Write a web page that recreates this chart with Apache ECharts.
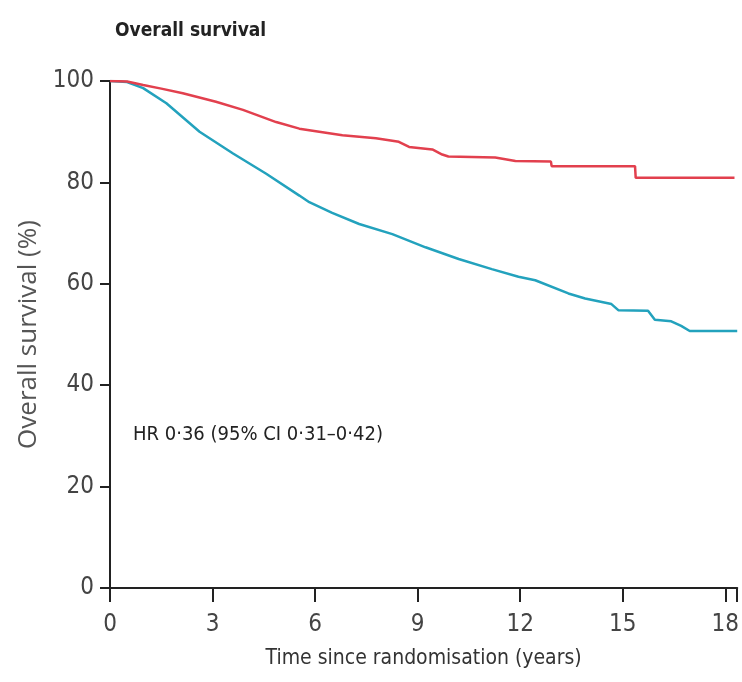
<!DOCTYPE html>
<html>
<head>
<meta charset="utf-8">
<script src="https://cdn.jsdelivr.net/npm/echarts@6/dist/echarts.min.js"></script>
<style>
  html, body { margin: 0; padding: 0; background: #fff; }
  #chart { width: 742px; height: 682px; }
</style>
</head>
<body>
<div id="chart"></div>
<script>
// x = years since randomisation, y = overall survival (%)
const xTicks = [0, 3, 6, 9, 12, 15, 18];
const yTicks = [0, 20, 40, 60, 80, 100];

const treatedSurvival = [
  [0, 100], [0.5, 99.9], [0.97, 99.2], [1.5, 98.5], [2.13, 97.6], [3.1, 95.9],
  [3.89, 94.3], [4.86, 91.9], [5.54, 90.6], [6.12, 90.0], [6.8, 89.3], [7.78, 88.7],
  [8.45, 88.0], [8.75, 87.0], [9.43, 86.5], [9.72, 85.5], [9.9, 85.1], [11.27, 84.9],
  [11.86, 84.2], [12.9, 84.1], [12.92, 83.2], [15.36, 83.2], [15.38, 80.9], [18.27, 80.9]
];

const controlSurvival = [
  [0, 100], [0.5, 99.8], [0.97, 98.6], [1.65, 95.6], [2.62, 90.0], [3.6, 85.7],
  [4.57, 81.7], [5.54, 77.4], [5.83, 76.1], [6.5, 74.0], [7.29, 71.8], [8.26, 69.8],
  [9.23, 67.2], [10.2, 64.9], [11.17, 62.9], [11.95, 61.4], [12.44, 60.7], [13.41, 58.1],
  [13.9, 57.1], [14.67, 56.0], [14.87, 54.8], [15.74, 54.7], [15.94, 52.9], [16.42, 52.6],
  [16.71, 51.7], [16.96, 50.7], [18.35, 50.7]
];

const titleText = "Overall survival";
const hrText = "HR 0\u00b736 (95% CI 0\u00b731\u20130\u00b742)";

const narrow = "'Liberation Sans Narrow', 'DejaVu Sans Condensed', 'Roboto Condensed', sans-serif";

const chart = echarts.init(document.getElementById("chart"));
chart.setOption({
  backgroundColor: "#ffffff",
  animation: false,
  title: {
    text: titleText,
    left: 110,
    top: 17,
    textStyle: { fontFamily: narrow, fontSize: 19, fontWeight: "bold", color: "#222" }
  },
  grid: { left: 110, right: 2, top: 81, bottom: 94 },
  graphic: [
    {
      type: "text",
      left: 133,
      top: 425,
      style: { text: hrText, fontFamily: narrow, fontSize: 20, fill: "#222" }
    }
  ],
  xAxis: {
    type: "value",
    min: 0,
    max: 18.35,
    interval: 3,
    name: "Time since randomisation (years)",
    nameLocation: "middle",
    nameGap: 60,
    nameTextStyle: { fontFamily: narrow, fontSize: 21, color: "#333" },
    axisLine: { show: true, onZero: false, lineStyle: { color: "#222", width: 2 } },
    axisTick: { show: true, length: 14, lineStyle: { color: "#222", width: 2 } },
    axisLabel: {
      fontFamily: narrow, fontSize: 24, color: "#444", margin: 25,
      formatter: v => (xTicks.includes(v) ? String(v) : "")
    },
    splitLine: { show: false }
  },
  yAxis: {
    type: "value",
    min: 0,
    max: 100,
    interval: 20,
    name: "Overall survival (%)",
    nameLocation: "middle",
    nameGap: 67,
    nameRotate: 90,
    nameTextStyle: { fontFamily: "'Open Sans', sans-serif", fontSize: 26, color: "#555" },
    axisLine: { show: true, lineStyle: { color: "#222", width: 2 } },
    axisTick: { show: true, length: 10, lineStyle: { color: "#222", width: 2 } },
    axisLabel: {
      fontFamily: narrow, fontSize: 24, color: "#444", margin: 16,
      formatter: v => (yTicks.includes(v) ? String(v) : "")
    },
    splitLine: { show: false }
  },
  series: [
    {
      name: "Treated",
      type: "line",
      data: treatedSurvival,
      symbol: "none",
      lineStyle: { color: "#e2404e", width: 2.5 },
      z: 3
    },
    {
      name: "Control",
      type: "line",
      data: controlSurvival,
      symbol: "none",
      lineStyle: { color: "#23a2bd", width: 2.5 },
      z: 2
    }
  ]
});
</script>
</body>
</html>
